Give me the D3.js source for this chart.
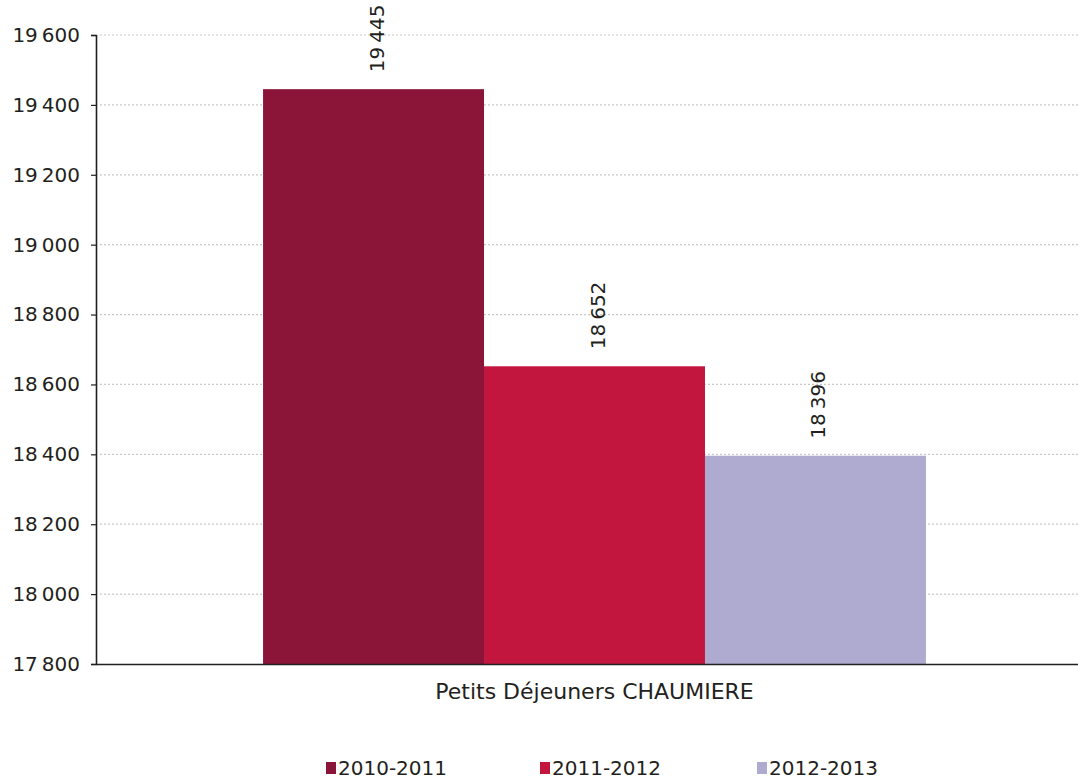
<!DOCTYPE html>
<html>
<head>
<meta charset="utf-8">
<script src="https://cdn.jsdelivr.net/npm/d3@7/dist/d3.min.js"></script>
<style>
  html, body { margin: 0; padding: 0; background: #fff; }
  svg { display: block; }
  text { font-family: "DejaVu Sans", sans-serif; fill: #231f20; }
</style>
</head>
<body>
<svg id="chart" width="1078" height="780"></svg>
<script>
// Breakfast counts per season
const category = "Petits Déjeuners CHAUMIERE";
const seasons = ["2010-2011", "2011-2012", "2012-2013"];
const values = [19445, 18652, 18396];
const colors = ["#8b1539", "#c2163f", "#aeaad0"];
const yTicks = [17800, 18000, 18200, 18400, 18600, 18800, 19000, 19200, 19400, 19600];

const svg = d3.select("#chart");
const margin = { left: 96, top: 35, bottom: 116 };
const plotRight = 1093;
const plotBottom = 780 - margin.bottom;

const y = d3.scaleLinear().domain([17800, 19600]).range([plotBottom, margin.top]);
const xCat = d3.scaleBand().domain([category]).range([margin.left, plotRight]).paddingInner(0).paddingOuter(0.252);
const xSeries = d3.scaleBand().domain(seasons).range([0, xCat.bandwidth()]).padding(0);

const fmt = v => d3.format(",")(v).replace(",", "\u2009");

// gridlines
svg.append("g")
  .selectAll("line")
  .data(yTicks.slice(1))
  .join("line")
  .attr("x1", margin.left + 4)
  .attr("x2", 1078)
  .attr("y1", d => y(d))
  .attr("y2", d => y(d))
  .attr("stroke", "#c8c8c8")
  .attr("stroke-width", 1.2)
  .attr("stroke-dasharray", "2,2");

// bars
const bars = svg.append("g").attr("transform", `translate(${xCat(category)},0)`);
bars.selectAll("rect")
  .data(seasons)
  .join("rect")
  .attr("x", d => xSeries(d))
  .attr("width", xSeries.bandwidth())
  .attr("y", (d, i) => y(values[i]))
  .attr("height", (d, i) => plotBottom - y(values[i]))
  .attr("fill", (d, i) => colors[i]);

// value labels, rotated
bars.selectAll("text.val")
  .data(seasons)
  .join("text")
  .attr("class", "val")
  .attr("transform", (d, i) => `translate(${xSeries(d) + xSeries.bandwidth() / 2 + 10},${y(values[i]) - 17}) rotate(-90)`)
  .attr("text-anchor", "start")
  .style("font-size", "20px")
  .text((d, i) => fmt(values[i]));

// y axis
const yAxis = d3.axisLeft(y).tickValues(yTicks).tickSize(5).tickPadding(11).tickFormat(fmt);
const gy = svg.append("g").attr("transform", `translate(${margin.left},0)`).call(yAxis);
gy.select(".domain").attr("stroke", "#231f20").attr("stroke-width", 1.6);
gy.selectAll(".tick line").attr("stroke", "#231f20").attr("stroke-width", 1.2);
gy.selectAll(".tick text").style("font-size", "20px").attr("fill", "#231f20").style("font-family", "'DejaVu Sans', sans-serif");

// x axis
const xAxis = d3.axisBottom(xCat).tickSize(0).tickPadding(19);
const gx = svg.append("g").attr("transform", `translate(0,${plotBottom})`).call(xAxis);
gx.select(".domain").attr("stroke", "#231f20").attr("stroke-width", 1.6);
gx.selectAll(".tick text").style("font-size", "22px").attr("fill", "#231f20").style("font-family", "'DejaVu Sans', sans-serif");

// legend
const legendX = [326, 540, 757];
const legend = svg.append("g").selectAll("g")
  .data(seasons)
  .join("g")
  .attr("transform", (d, i) => `translate(${legendX[i]},768)`);
legend.append("rect")
  .attr("x", 0).attr("y", -6).attr("width", 10).attr("height", 12)
  .attr("fill", (d, i) => colors[i]);
legend.append("text")
  .attr("x", 12).attr("y", 0).attr("dy", "0.35em")
  .style("font-size", "20px")
  .text(d => d);
</script>
</body>
</html>
